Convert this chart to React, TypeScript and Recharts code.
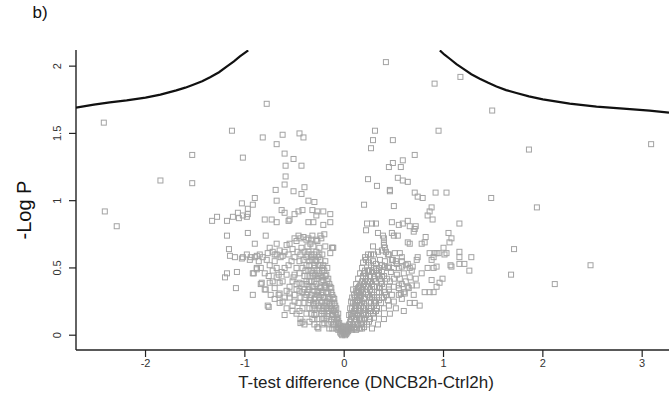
import { ScatterChart, Scatter, XAxis, YAxis } from 'recharts'

// threshold curve
const leftCurve: [number, number][] = [
  [-2.7, 1.691], [-2.52, 1.714], [-2.36, 1.731], [-2.19, 1.746], [-2.0, 1.766],
  [-1.85, 1.788], [-1.69, 1.82], [-1.6, 1.84], [-1.52, 1.862], [-1.43, 1.888], [-1.35, 1.918],
  [-1.26, 1.955], [-1.18, 1.998], [-1.11, 2.035], [-1.05, 2.072], [-0.966, 2.117],
]
const rightCurve: [number, number][] = [
  [0.963, 2.117], [1.01, 2.085], [1.063, 2.055], [1.13, 2.015], [1.197, 1.981],
  [1.28, 1.94], [1.365, 1.907], [1.45, 1.876], [1.533, 1.849], [1.63, 1.822], [1.734, 1.8],
  [1.86, 1.775], [2.0, 1.753], [2.27, 1.721], [2.54, 1.699], [2.81, 1.684], [3.075, 1.669], [3.27, 1.654],
]

// proteins, left of zero
const leftOutliers: [number, number][] = [
  [-2.42, 1.58], [-2.41, 0.92], [-2.29, 0.81], [-1.85, 1.15], [-1.53, 1.34], [-1.53, 1.13],
  [-1.13, 1.52], [-1.02, 1.32], [-0.78, 1.72], [-0.82, 1.47], [-0.62, 1.49], [-0.68, 1.42],
  [-0.45, 1.5], [-0.41, 1.47], [-0.6, 1.35], [-0.51, 1.31], [-0.59, 1.26], [-0.43, 1.26],
  [-0.59, 1.18], [-0.6, 1.12], [-0.69, 1.08], [-0.51, 1.07], [-0.43, 1.05], [-0.4, 1.1],
  [-0.9, 1.02], [-1.03, 0.98], [-0.97, 0.94], [-0.92, 0.97], [-0.68, 1.0], [-0.36, 1.0], [-0.3, 0.99],
]
const leftMid: [number, number][] = [
  [-1.33, 0.85], [-1.28, 0.88], [-1.18, 0.85], [-1.12, 0.88], [-1.06, 0.87], [-0.98, 0.88],
  [-1.02, 0.89], [-0.97, 0.9], [-1.07, 0.91], [-0.8, 0.86], [-0.73, 0.86], [-0.68, 0.84],
  [-0.63, 0.93], [-0.55, 0.86], [-0.5, 0.9], [-0.46, 0.92], [-0.42, 0.93], [-0.32, 0.93],
  [-0.27, 0.92], [-0.21, 0.92], [-0.14, 0.9], [-0.28, 0.89], [-0.36, 0.84], [-0.31, 0.84],
  [-0.21, 0.82], [-0.14, 0.84], [-0.6, 0.91], [-0.56, 0.85],
  [-1.18, 0.74], [-0.97, 0.76], [-0.79, 0.74], [-1.16, 0.64], [-0.9, 0.68], [-0.75, 0.65],
  [-0.68, 0.68], [-0.65, 0.63], [-0.58, 0.67], [-0.55, 0.68], [-0.5, 0.72], [-0.46, 0.74],
  [-0.41, 0.73], [-0.38, 0.71], [-0.33, 0.71], [-0.28, 0.71], [-0.24, 0.74], [-0.2, 0.75],
  [-0.11, 0.65], [-0.14, 0.61], [-0.12, 0.65], [-1.03, 0.57], [-0.94, 0.58], [-0.77, 0.61],
  [-1.15, 0.59], [-1.1, 0.58], [-0.88, 0.59], [-0.85, 0.6], [-0.7, 0.6], [-0.62, 0.59],
  [-1.18, 0.46], [-1.2, 0.43], [-1.08, 0.47], [-0.92, 0.46], [-0.88, 0.49], [-0.83, 0.39],
  [-0.75, 0.39], [-0.68, 0.43], [-0.65, 0.39], [-0.58, 0.45], [-0.51, 0.43], [-0.45, 0.46],
  [-0.45, 0.39], [-1.09, 0.35], [-0.92, 0.3], [-0.79, 0.34], [-0.76, 0.21], [-0.77, 0.22],
  [-0.65, 0.24], [-0.65, 0.31], [-0.55, 0.31], [-0.48, 0.34], [-0.5, 0.25], [-0.45, 0.18],
  [-0.52, 0.18], [-0.42, 0.1], [-0.44, 0.09], [-0.26, 0.05], [-0.27, 0.06], [-0.84, 0.38],
  [-0.91, 0.46], [-0.88, 0.5],
]
const leftDense: [number, number][] = [
  [-0.12, 0.15], [-0.15, 0.18], [-0.18, 0.2], [-0.2, 0.22], [-0.22, 0.25], [-0.25, 0.28],
  [-0.27, 0.3], [-0.3, 0.33], [-0.32, 0.36], [-0.35, 0.4], [-0.15, 0.12], [-0.2, 0.16],
  [-0.25, 0.2], [-0.28, 0.24], [-0.3, 0.27], [-0.33, 0.3], [-0.36, 0.34], [-0.38, 0.38],
  [-0.09, 0.22], [-0.1, 0.27], [-0.12, 0.3], [-0.13, 0.35], [-0.15, 0.38], [-0.16, 0.42],
  [-0.18, 0.45], [-0.2, 0.48], [-0.22, 0.5], [-0.24, 0.52], [-0.25, 0.46], [-0.27, 0.42],
  [-0.28, 0.38], [-0.24, 0.35], [-0.26, 0.33], [-0.23, 0.3], [-0.2, 0.28], [-0.17, 0.25],
  [-0.14, 0.22], [-0.11, 0.18], [-0.08, 0.1], [-0.06, 0.06], [-0.1, 0.08], [-0.13, 0.1],
  [-0.17, 0.14], [-0.22, 0.18], [-0.26, 0.22], [-0.3, 0.22], [-0.34, 0.26], [-0.38, 0.3],
  [-0.4, 0.34], [-0.42, 0.38], [-0.35, 0.2], [-0.4, 0.24], [-0.44, 0.28], [-0.45, 0.33],
  [-0.3, 0.15], [-0.25, 0.12], [-0.2, 0.09], [-0.28, 0.55], [-0.3, 0.5], [-0.32, 0.46],
  [-0.34, 0.44], [-0.36, 0.48], [-0.3, 0.6], [-0.28, 0.62], [-0.33, 0.58], [-0.35, 0.55],
  [-0.38, 0.52], [-0.26, 0.58], [-0.24, 0.56], [-0.22, 0.6], [-0.19, 0.55], [-0.17, 0.5],
  [-0.4, 0.44], [-0.42, 0.5], [-0.45, 0.55], [-0.48, 0.5], [-0.5, 0.45], [-0.52, 0.4],
  [-0.55, 0.36], [-0.58, 0.33], [-0.6, 0.28], [-0.48, 0.38], [-0.5, 0.3], [-0.46, 0.24],
  [-0.42, 0.2], [-0.38, 0.16], [-0.4, 0.62], [-0.43, 0.65], [-0.37, 0.66], [-0.34, 0.68],
  [-0.31, 0.66], [-0.38, 0.58], [-0.44, 0.6], [-0.47, 0.62], [-0.5, 0.58], [-0.53, 0.55],
  [-0.56, 0.52], [-0.6, 0.5], [-0.63, 0.47], [-0.66, 0.45], [-0.62, 0.4], [-0.68, 0.5],
  [-0.7, 0.55], [-0.72, 0.48], [-0.75, 0.52], [-0.78, 0.56], [-0.72, 0.62], [-0.68, 0.6],
  [-0.64, 0.58], [-0.6, 0.62], [-0.56, 0.6], [-0.52, 0.64], [-0.48, 0.7], [-0.44, 0.72],
  [-0.36, 0.72], [-0.32, 0.74], [-0.27, 0.7], [-0.25, 0.65], [-0.23, 0.72], [-0.19, 0.66],
  [-0.82, 0.58], [-0.86, 0.55], [-0.9, 0.58], [-0.95, 0.56], [-0.98, 0.6], [-1.02, 0.58],
  [-0.84, 0.5], [-0.8, 0.46], [-0.76, 0.44], [-0.72, 0.4], [-0.7, 0.35], [-0.66, 0.3],
  [-0.62, 0.25], [-0.58, 0.2], [-0.55, 0.28], [-0.52, 0.22], [-0.48, 0.16], [-0.44, 0.12],
  [-0.4, 0.08], [-0.35, 0.1], [-0.32, 0.12], [-0.3, 0.08], [-0.6, 0.15], [-0.7, 0.27],
  [-0.74, 0.3], [-0.8, 0.34], [-0.21, 0.41], [-0.22, 0.43], [-0.19, 0.37], [-0.18, 0.35],
  [-0.16, 0.31], [-0.14, 0.27], [-0.12, 0.23], [-0.1, 0.19], [-0.36, 0.62], [-0.29, 0.45],
]

// V core around zero
const core: [number, number][] = [
  [0, 0.01], [0.01, 0.02], [-0.01, 0.02], [0.02, 0.03], [-0.02, 0.03], [0.03, 0.04],
  [-0.03, 0.05], [0, 0.04], [0.04, 0.06], [-0.04, 0.07], [0.05, 0.08], [-0.05, 0.09],
  [0.01, 0.0], [-0.02, 0.0], [0.02, 0.01], [-0.06, 0.11], [0.06, 0.1], [-0.07, 0.13],
  [0.07, 0.12], [-0.08, 0.15], [0.08, 0.14], [-0.09, 0.17], [0.09, 0.16], [0.1, 0.18],
  [0.11, 0.2], [0.12, 0.22], [0.13, 0.24], [0.14, 0.26], [0.15, 0.28], [0.16, 0.3],
  [0.17, 0.32], [0.18, 0.34], [0.19, 0.36], [0.2, 0.38], [0.21, 0.4], [0.22, 0.42],
  [-0.03, 0.01], [0.03, 0.02], [-0.01, 0.06], [0.02, 0.07], [-0.04, 0.02], [0.04, 0.03],
  [-0.06, 0.04], [0.06, 0.05], [0.0, 0.02], [-0.02, 0.05], [0.03, 0.06],
]
const leftArm: [number, number][] = [
  [-0.05, 0.05], [-0.08, 0.05], [-0.12, 0.05], [-0.15, 0.05],
  [-0.06, 0.08], [-0.11, 0.08], [-0.16, 0.08], [-0.22, 0.08],
  [-0.07, 0.12], [-0.1, 0.12], [-0.18, 0.12], [-0.22, 0.12], [-0.27, 0.12],
  [-0.06, 0.16], [-0.12, 0.16], [-0.16, 0.16], [-0.23, 0.16], [-0.28, 0.16], [-0.33, 0.16],
  [-0.08, 0.2], [-0.13, 0.2], [-0.17, 0.2], [-0.21, 0.2], [-0.29, 0.2], [-0.32, 0.2],
  [-0.1, 0.24], [-0.15, 0.24], [-0.19, 0.24], [-0.23, 0.24], [-0.31, 0.24], [-0.36, 0.24],
  [-0.11, 0.28], [-0.16, 0.28], [-0.21, 0.28], [-0.29, 0.28], [-0.34, 0.28], [-0.4, 0.28],
  [-0.13, 0.32], [-0.18, 0.32], [-0.22, 0.32], [-0.27, 0.32], [-0.37, 0.32], [-0.42, 0.32],
  [-0.14, 0.36], [-0.2, 0.36], [-0.24, 0.36], [-0.31, 0.36], [-0.35, 0.36],
  [-0.17, 0.4], [-0.23, 0.4], [-0.3, 0.4], [-0.33, 0.4], [-0.38, 0.4],
  [-0.19, 0.44], [-0.23, 0.44], [-0.26, 0.44], [-0.31, 0.44], [-0.37, 0.44],
  [-0.22, 0.48], [-0.27, 0.48], [-0.33, 0.48], [-0.39, 0.48],
  [-0.21, 0.52], [-0.26, 0.52], [-0.3, 0.52], [-0.35, 0.52],
  [-0.29, 0.56], [-0.32, 0.56], [-0.41, 0.56], [-0.25, 0.6], [-0.33, 0.6], [-0.37, 0.6],
]
const rightArm: [number, number][] = [
  [0.05, 0.05], [0.07, 0.05], [0.1, 0.05], [0.13, 0.05], [0.18, 0.05],
  [0.06, 0.08], [0.09, 0.08], [0.13, 0.08], [0.17, 0.08], [0.23, 0.08],
  [0.07, 0.12], [0.12, 0.12], [0.16, 0.12], [0.21, 0.12], [0.26, 0.12],
  [0.07, 0.16], [0.11, 0.16], [0.14, 0.16], [0.2, 0.16], [0.24, 0.16], [0.29, 0.16],
  [0.08, 0.2], [0.12, 0.2], [0.15, 0.2], [0.22, 0.2], [0.25, 0.2], [0.33, 0.2],
  [0.09, 0.24], [0.11, 0.24], [0.16, 0.24], [0.2, 0.24], [0.27, 0.24], [0.32, 0.24], [0.37, 0.24],
  [0.11, 0.28], [0.13, 0.28], [0.21, 0.28], [0.26, 0.28], [0.33, 0.28], [0.4, 0.28],
  [0.13, 0.32], [0.15, 0.32], [0.22, 0.32], [0.28, 0.32], [0.35, 0.32], [0.41, 0.32],
  [0.15, 0.36], [0.24, 0.36], [0.3, 0.36], [0.33, 0.36], [0.45, 0.36],
  [0.18, 0.4], [0.26, 0.4], [0.32, 0.4], [0.37, 0.4],
  [0.19, 0.44], [0.22, 0.44], [0.3, 0.44], [0.38, 0.44],
  [0.21, 0.48], [0.25, 0.48], [0.35, 0.48],
]

// proteins, right of zero
const rightDense: [number, number][] = [
  [0.05, 0.15], [0.06, 0.2], [0.07, 0.25], [0.08, 0.28], [0.1, 0.3], [0.12, 0.33],
  [0.14, 0.35], [0.16, 0.37], [0.1, 0.12], [0.13, 0.15], [0.16, 0.18], [0.19, 0.2],
  [0.22, 0.22], [0.25, 0.25], [0.28, 0.28], [0.3, 0.3], [0.33, 0.32], [0.36, 0.35],
  [0.38, 0.38], [0.4, 0.36], [0.42, 0.3], [0.45, 0.34], [0.48, 0.3], [0.5, 0.36],
  [0.35, 0.26], [0.3, 0.22], [0.26, 0.18], [0.22, 0.15], [0.18, 0.11], [0.14, 0.08],
  [0.1, 0.06], [0.2, 0.06], [0.25, 0.1], [0.3, 0.13], [0.35, 0.16], [0.4, 0.2],
  [0.45, 0.22], [0.5, 0.25], [0.55, 0.3], [0.52, 0.2], [0.46, 0.16], [0.4, 0.12],
  [0.34, 0.08], [0.28, 0.05], [0.22, 0.36], [0.24, 0.4], [0.26, 0.44], [0.28, 0.47],
  [0.3, 0.5], [0.32, 0.48], [0.3, 0.42], [0.28, 0.38], [0.26, 0.34], [0.24, 0.3],
  [0.2, 0.27], [0.18, 0.24], [0.15, 0.22], [0.13, 0.26], [0.17, 0.29], [0.19, 0.31],
  [0.2, 0.46], [0.18, 0.5], [0.19, 0.54], [0.22, 0.56], [0.25, 0.54], [0.27, 0.52],
  [0.29, 0.55], [0.32, 0.53], [0.35, 0.5], [0.38, 0.47], [0.4, 0.44], [0.43, 0.42],
  [0.46, 0.4], [0.5, 0.42], [0.53, 0.45], [0.56, 0.42], [0.6, 0.46], [0.62, 0.4],
  [0.58, 0.38], [0.55, 0.35], [0.6, 0.32], [0.65, 0.35], [0.7, 0.3], [0.36, 0.42],
  [0.34, 0.45], [0.38, 0.52], [0.36, 0.56], [0.41, 0.55], [0.44, 0.5], [0.47, 0.47],
  [0.5, 0.5], [0.52, 0.55], [0.55, 0.5], [0.58, 0.55], [0.62, 0.52], [0.66, 0.5],
  [0.48, 0.56], [0.45, 0.6], [0.42, 0.62], [0.38, 0.63], [0.34, 0.62], [0.3, 0.6],
  [0.27, 0.6], [0.24, 0.48], [0.14, 0.42], [0.16, 0.46], [0.12, 0.38], [0.09, 0.34],
  [0.38, 0.28], [0.44, 0.26], [0.32, 0.18], [0.08, 0.04], [0.12, 0.04], [0.16, 0.05],
  [0.11, 0.1], [0.15, 0.13], [0.2, 0.13], [0.24, 0.16], [0.27, 0.2], [0.31, 0.25],
]
const rightMid: [number, number][] = [
  [0.2, 0.97], [0.5, 0.96], [0.88, 0.95], [0.86, 0.92], [0.84, 0.89], [0.89, 0.86],
  [0.23, 0.83], [0.28, 0.83], [0.32, 0.83], [0.22, 0.78], [0.48, 0.84], [0.55, 0.82],
  [0.59, 0.83], [0.64, 0.85], [0.66, 0.81], [0.71, 0.79], [0.72, 0.81], [0.7, 0.77],
  [1.16, 0.83], [0.34, 0.76], [0.39, 0.74], [0.48, 0.76], [0.5, 0.74], [0.54, 0.74],
  [0.4, 0.72], [0.4, 0.69], [0.4, 0.67], [0.41, 0.65], [0.64, 0.69], [0.66, 0.68],
  [0.78, 0.68], [0.81, 0.69], [0.82, 0.73], [1.05, 0.76], [1.08, 0.72], [1.06, 0.69],
  [1.0, 0.65], [-0.12, 0.65], [0.29, 0.66], [0.21, 0.58], [0.24, 0.6], [0.44, 0.6],
  [0.51, 0.61], [0.56, 0.61], [0.58, 0.58], [0.49, 0.56], [0.53, 0.53], [0.45, 0.51],
  [0.41, 0.51], [0.58, 0.51], [0.64, 0.53], [0.69, 0.51], [0.73, 0.56], [0.74, 0.58],
  [0.86, 0.61], [0.9, 0.58], [0.93, 0.61], [1.01, 0.6], [1.03, 0.61], [1.16, 0.62],
  [1.16, 0.58], [1.21, 0.53], [1.16, 0.53], [1.28, 0.58], [1.26, 0.48], [1.08, 0.51],
  [1.07, 0.52], [0.88, 0.56], [0.93, 0.51], [0.88, 0.41], [0.93, 0.36], [0.99, 0.42],
  [0.96, 0.39], [0.86, 0.32], [0.81, 0.32], [0.9, 0.32], [0.78, 0.46], [0.66, 0.43],
  [0.68, 0.37], [0.61, 0.31], [0.73, 0.37], [0.58, 0.27], [0.6, 0.18], [0.66, 0.24],
  [0.71, 0.24], [0.76, 0.22], [0.64, 0.36], [0.72, 0.42], [0.68, 0.48], [0.57, 0.31],
  [0.55, 0.37], [0.84, 0.5], [0.9, 0.5], [0.95, 0.61], [0.91, 0.61],
]
const rightOutliers: [number, number][] = [
  [0.42, 2.03], [0.91, 1.87], [1.17, 1.92], [1.49, 1.67], [0.95, 1.52], [0.31, 1.52],
  [0.29, 1.45], [0.27, 1.39], [0.49, 1.45], [0.71, 1.34], [0.49, 1.28], [0.45, 1.25],
  [0.57, 1.25], [0.59, 1.3], [1.86, 1.38], [3.09, 1.42], [0.24, 1.16], [0.33, 1.11],
  [0.54, 1.17], [0.59, 1.15], [0.64, 1.14], [0.46, 1.08], [0.46, 1.07], [0.71, 1.06],
  [0.74, 1.03], [0.79, 1.02], [0.92, 1.06], [1.03, 1.06], [1.48, 1.02], [1.94, 0.95],
  [1.71, 0.64], [2.48, 0.52], [1.68, 0.45], [2.12, 0.38],
]

const allPoints = [
  ...leftOutliers, ...leftMid, ...leftDense, ...leftArm, ...core, ...rightArm,
  ...rightDense, ...rightMid, ...rightOutliers,
].map(([x, y]) => ({ x, y }))
const toXY = (pts: [number, number][]) => pts.map(([x, y]) => ({ x, y }))

const xTicks = [-2, -1, 0, 1, 2, 3]
const yTicks = [0, 0.5, 1, 1.5, 2]

const font = '"Liberation Sans", Arial, sans-serif'

function OpenSquare(props: any) {
  const { cx, cy } = props
  if (cx == null || cy == null) return <g />
  return (
    <rect x={cx - 2.5} y={cy - 2.5} width={5} height={5} fill="none" stroke="#a3a3a3" strokeWidth={1} />
  )
}

function YTick(props: any) {
  const { x, y, payload } = props
  return (
    <text
      transform={`translate(${x - 4}, ${y}) rotate(-90)`}
      textAnchor="middle"
      fontSize={11}
      fill="#333"
      fontFamily={font}
    >
      {payload.value}
    </text>
  )
}

export default function App() {
  return (
    <div style={{ position: 'absolute', left: 0, top: 0, width: 669, height: 396, background: '#fff' }}>
      <ScatterChart width={669} height={396} margin={{ top: 50, right: 0, bottom: 16, left: 16 }}>
        <XAxis
          type="number"
          dataKey="x"
          domain={[-2.7, 3.27]}
          ticks={xTicks}
          allowDataOverflow
          height={30}
          tickSize={7}
          tickMargin={2}
          axisLine={{ stroke: '#222', strokeWidth: 1.4 }}
          tickLine={{ stroke: '#222', strokeWidth: 1.2 }}
          tick={{ fontSize: 11, fill: '#333', fontFamily: font }}
        />
        <YAxis
          type="number"
          dataKey="y"
          domain={[-0.11, 2.12]}
          ticks={yTicks}
          allowDataOverflow
          width={60}
          tickSize={7}
          tickMargin={4}
          axisLine={{ stroke: '#222', strokeWidth: 1.4 }}
          tickLine={{ stroke: '#222', strokeWidth: 1.2 }}
          tick={<YTick />}
        />
        <Scatter data={allPoints} shape={<OpenSquare />} isAnimationActive={false} />
        <Scatter
          data={toXY(leftCurve)}
          line={{ stroke: '#111', strokeWidth: 2.2 }}
          lineType="joint"
          shape={() => <g />}
          isAnimationActive={false}
        />
        <Scatter
          data={toXY(rightCurve)}
          line={{ stroke: '#111', strokeWidth: 2.2 }}
          lineType="joint"
          shape={() => <g />}
          isAnimationActive={false}
        />
      </ScatterChart>
      <div style={{ position: 'absolute', left: 40, top: 13, transform: 'translate(-50%, -50%)', fontFamily: font, fontSize: 17, color: '#111', whiteSpace: 'nowrap' }}>
        b)
      </div>
      <div style={{ position: 'absolute', left: 24, top: 210, transform: 'translate(-50%, -50%) rotate(-90deg)', fontFamily: font, fontSize: 20, color: '#111', whiteSpace: 'nowrap' }}>
        -Log P
      </div>
      <div style={{ position: 'absolute', left: 366, top: 383, transform: 'translate(-50%, -50%)', fontFamily: font, fontSize: 17, color: '#222', whiteSpace: 'nowrap' }}>
        T-test difference (DNCB2h-Ctrl2h)
      </div>
    </div>
  )
}
